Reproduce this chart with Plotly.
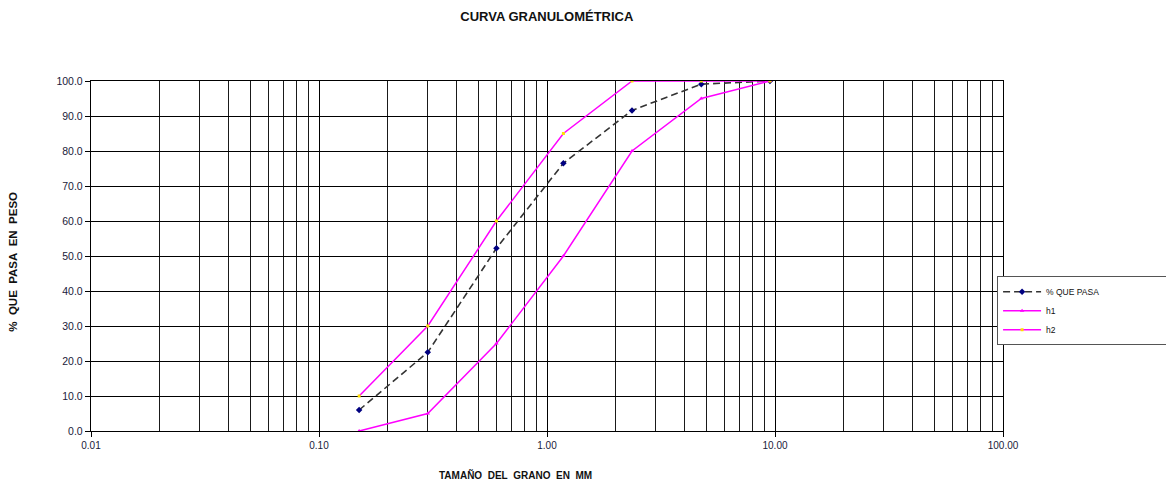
import plotly.graph_objects as go

# Sieve openings (mm) and percent passing
tamiz_mm = [0.15, 0.3, 0.6, 1.18, 2.36, 4.75, 9.5]
pct_pasa = [6.0, 22.5, 52.2, 76.5, 91.6, 99.1, 100.0]
h1 = [0.0, 5.0, 25.0, 50.0, 80.0, 95.0, 100.0]
h2 = [10.0, 30.0, 60.0, 85.0, 100.0, 100.0, 100.0]

x_major = [0.01, 0.1, 1, 10, 100]
x_major_text = ["0.01", "0.10", "1.00", "10.00", "100.00"]
x_minor = [m * d for d in (0.01, 0.1, 1, 10) for m in range(2, 10)]

FONT = "Liberation Sans, Arial, sans-serif"
SP = "\u00a0\u00a0"
# trailing blank space keeps the legend box running to the page edge
LEGEND_PAD = "\u00a0" * 26

fig = go.Figure()
fig.add_trace(go.Scatter(
    x=tamiz_mm, y=pct_pasa, name="% QUE PASA" + LEGEND_PAD, mode="lines+markers",
    line=dict(color="#333333", width=1.6, dash="7px,4px"),
    marker=dict(symbol="diamond", size=5, color="#000080"),
))
fig.add_trace(go.Scatter(
    x=tamiz_mm, y=h1, name="h1", mode="lines+markers",
    line=dict(color="#FF00FF", width=1.5),
    marker=dict(symbol="triangle-up", size=4, color="#FF00FF"),
))
fig.add_trace(go.Scatter(
    x=tamiz_mm, y=h2, name="h2", mode="lines+markers",
    line=dict(color="#FF00FF", width=1.5),
    marker=dict(symbol="square", size=3, color="#FFE000"),
))

fig.update_layout(
    width=1166, height=484,
    margin=dict(l=91, r=163, t=81, b=53, autoexpand=False),
    paper_bgcolor="white", plot_bgcolor="white",
    font=dict(family=FONT, color="#1a1a3a", size=10),
    title=dict(text="<b>CURVA GRANULOMÉTRICA</b>", x=0.469, xanchor="center",
               y=0.965, yanchor="middle", font=dict(size=13, color="#111")),
    showlegend=True,
    legend=dict(x=0.9935, y=0.442, xanchor="left", yanchor="top",
                bgcolor="white", bordercolor="#555", borderwidth=1,
                font=dict(size=8.5, color="#111"), itemwidth=38,
                tracegroupgap=0),
    xaxis=dict(
        type="log", range=[-2, 2],
        tickvals=x_major, ticktext=x_major_text,
        ticks="outside", ticklen=5, tickcolor="black",
        showgrid=True, gridcolor="black", gridwidth=1.4,
        showline=True, linecolor="black", linewidth=1.4, mirror=True,
        minor=dict(tickvals=x_minor, showgrid=True, gridcolor="#1a1a1a", gridwidth=1.1),
        tickfont=dict(size=10), zeroline=False,
    ),
    yaxis=dict(
        range=[0, 100], dtick=10, tick0=0, tickformat=".1f",
        ticks="outside", ticklen=5, tickcolor="black",
        showgrid=True, gridcolor="black", gridwidth=1.4,
        showline=True, linecolor="black", linewidth=1.4, mirror=True,
        tickfont=dict(size=10.5), zeroline=False,
    ),
    annotations=[
        dict(text="<b>" + SP.join(["TAMAÑO", "DEL", "GRANO", "EN", "MM"]) + "</b>",
             xref="paper", yref="paper",
             x=0.465, y=-0.125, xanchor="center", yanchor="middle",
             showarrow=False, font=dict(size=10, color="#111")),
        dict(text="<b>" + SP.join(["%", "QUE", "PASA", "EN", "PESO"]) + "</b>",
             xref="paper", yref="paper",
             x=-0.085, y=0.485, xanchor="center", yanchor="middle",
             textangle=-90, showarrow=False, font=dict(size=11.5, color="#111")),
    ],
)

fig.write_html("out.html")
